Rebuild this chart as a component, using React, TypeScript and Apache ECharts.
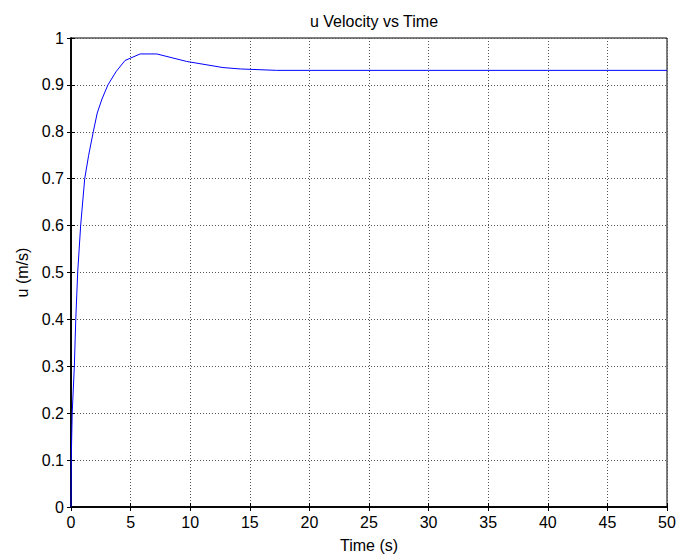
import React, { useEffect, useRef } from "react";
import * as echarts from "echarts";

const timeValues = [0, 0.02, 0.1, 0.28, 0.4, 0.48, 0.56, 0.81, 1.15, 1.48, 1.87, 2.2, 2.6, 3.1, 3.77, 4.53, 5.8, 7.2, 9.7, 12.75, 14.2, 17.25, 20, 30, 40, 50];
const uValues = [0, 0.1, 0.2, 0.3, 0.4, 0.45, 0.5, 0.6, 0.7, 0.75, 0.8, 0.84, 0.87, 0.9, 0.928, 0.952, 0.966, 0.966, 0.95, 0.937, 0.934, 0.931, 0.931, 0.931, 0.931, 0.931];
const titleText = "u Velocity vs Time";
const xName = "Time (s)";
const yName = "u (m/s)";

export default function App() {
  const ref = useRef<HTMLDivElement>(null);
  useEffect(() => {
    if (!ref.current) return;
    const chart = echarts.init(ref.current, null, { renderer: "svg" });
    const font = "Liberation Sans, Arial, sans-serif";
    const fs = 16;
    const gridLine = { show: true, lineStyle: { color: "#555", type: [1, 2] as any, width: 1 } };
    const hiddenAxisBase = {
      axisLine: { show: true, lineStyle: { color: "#000", width: 1.5 } },
      axisTick: { show: true, inside: true, length: 4, lineStyle: { color: "#000" } },
      axisLabel: { show: false },
      splitLine: { show: false },
    };
    chart.setOption({
      animation: false,
      backgroundColor: "#fff",
      title: {
        text: titleText,
        left: 369,
        top: 8,
        textAlign: "center",
        textStyle: { fontFamily: font, fontSize: fs, fontWeight: "normal", color: "#000" },
      },
      grid: { left: 71, right: 24, top: 38, bottom: 50, show: true, borderColor: "#000", borderWidth: 1 },
      xAxis: [
        {
          type: "value",
          min: 0,
          max: 50,
          interval: 5,
          name: xName,
          nameLocation: "middle",
          nameGap: 30,
          nameTextStyle: { fontFamily: font, fontSize: fs, color: "#000" },
          axisLine: { show: true, onZero: false, lineStyle: { color: "#000", width: 1.5 } },
          axisTick: { show: true, inside: true, length: 4, lineStyle: { color: "#000" } },
          axisLabel: { fontFamily: font, fontSize: fs, color: "#000", margin: 7 },
          splitLine: gridLine,
        },
        { type: "value", position: "top", min: 0, max: 50, interval: 5, ...hiddenAxisBase },
      ],
      yAxis: [
        {
          type: "value",
          min: 0,
          max: 1,
          interval: 0.1,
          name: yName,
          nameLocation: "middle",
          nameGap: 34,
          nameTextStyle: { fontFamily: font, fontSize: fs, color: "#000" },
          axisLine: { show: true, onZero: false, lineStyle: { color: "#000", width: 1.5 } },
          axisTick: { show: true, inside: true, length: 4, lineStyle: { color: "#000" } },
          axisLabel: {
            fontFamily: font,
            fontSize: fs,
            color: "#000",
            margin: 7,
            formatter: (v: number) => (Math.abs(v) < 1e-9 ? "0" : Math.abs(v - 1) < 1e-9 ? "1" : v.toFixed(1)),
          },
          splitLine: gridLine,
        },
        { type: "value", position: "right", min: 0, max: 1, interval: 0.1, ...hiddenAxisBase },
      ],
      series: [
        {
          type: "line",
          data: timeValues.map((t, i) => [t, uValues[i]]),
          showSymbol: false,
          smooth: false,
          lineStyle: { color: "#0000ff", width: 1 },
          itemStyle: { color: "#0000ff" },
        },
      ],
    });
    return () => chart.dispose();
  }, []);
  return <div ref={ref} style={{ width: 691, height: 558, position: "absolute", left: 0, top: 0 }} />;
}
